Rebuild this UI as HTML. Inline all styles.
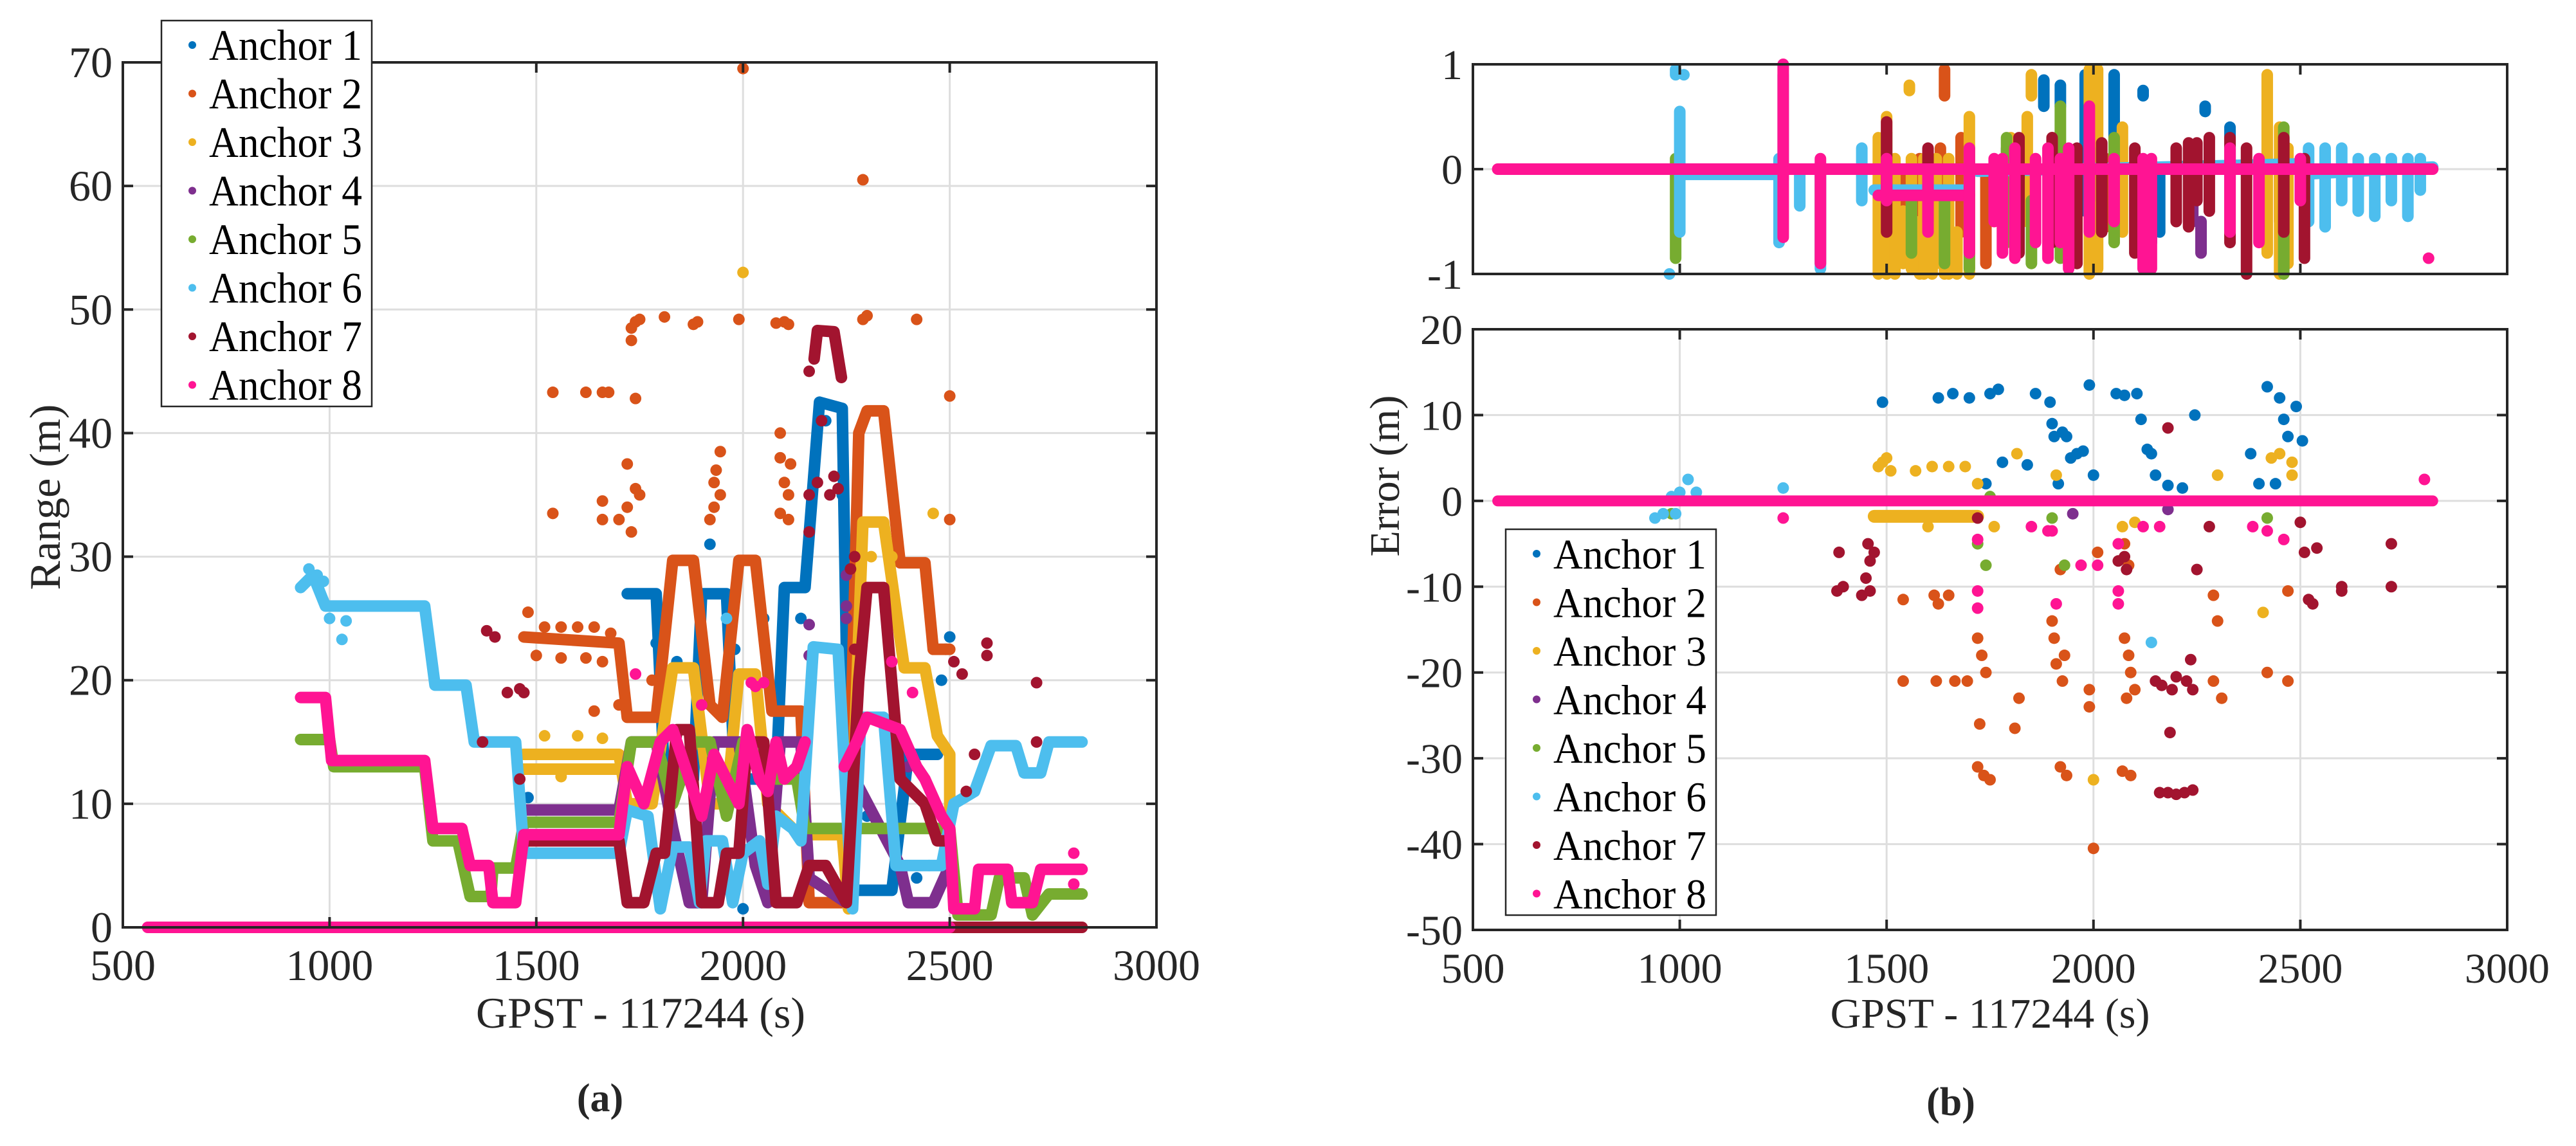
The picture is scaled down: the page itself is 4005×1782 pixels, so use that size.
<!DOCTYPE html>
<html><head><meta charset="utf-8"><style>
html,body{margin:0;padding:0;background:#fff;}
svg{display:block;font-family:"Liberation Serif",serif;}
</style></head><body>
<svg id="fig" width="4005" height="1782" viewBox="0 0 4005 1782" xmlns="http://www.w3.org/2000/svg">
<rect x="0" y="0" width="4005" height="1782" fill="#fff"/>
<g id="gA"></g>
<g id="gB"></g>
<g id="gC"></g>
<g id="gT"></g>
</svg>
<script>
// ---------- DATA ----------
const colors=["#0072BD","#D95319","#EDB120","#7E2F8E","#77AC30","#4DBEEE","#A2142F","#FF1493"];
const anchorNames=["Anchor 1","Anchor 2","Anchor 3","Anchor 4","Anchor 5","Anchor 6","Anchor 7","Anchor 8"];
const xTicks=[500,1000,1500,2000,2500,3000];
const rangeTicks=[0,10,20,30,40,50,60,70];
const errTopTicks=[-1,0,1];
const errBotTicks=[-50,-40,-30,-20,-10,0,10,20];

// Range traces [time, range]
const range1=[[[1720,27],[1790,27],[1810,12],[1880,12],[1900,27],[1960,27],[1980,12],[2080,12],[2100,27.5],[2150,27.5],[2185,42.5],[2240,42],[2260,3],[2360,3],[2400,14],[2470,14]]];
const range2=[[[1470,23.5],[1700,23],[1720,17],[1790,17],[1830,29.7],[1880,29.7],[1920,18],[1950,17],[1990,29.7],[2030,29.7],[2070,17.5],[2140,17.5],[2160,2],[2250,2],[2280,40],[2300,41.8],[2340,41.8],[2380,29.5],[2440,29.5],[2460,22.5],[2500,22.5]]];
const range3=[[[1470,14],[1700,14],[1720,10],[1780,10],[1830,21],[1880,21],[1920,10],[1960,10],[1990,20.5],[2030,20.5],[2060,10],[2120,8],[2140,7.5],[2240,7.5],[2255,1.5],[2290,32.8],[2340,32.8],[2390,21],[2440,21],[2470,15.5],[2500,14],[2500,9]],[[1470,12.8],[1700,12.8]]];
const range4=[[[1470,9.5],[1700,9.5],[1730,15],[1790,15],[1830,8],[1870,2],[1900,2],[1930,15],[1990,15],[2030,5],[2060,2],[2090,15],[2140,15],[2160,4],[2250,2],[2270,12],[2380,5],[2400,2],[2460,2],[2500,5]]];
const range5=[[[930,15.2],[1000,15.2],[1010,13],[1230,13],[1250,7],[1310,7],[1340,2.5],[1390,2.5],[1395,4.8],[1450,4.8],[1470,8.5],[1700,8.5],[1730,15],[1790,15],[1830,10],[1880,15],[1920,15],[1960,9],[2000,15],[2040,15],[2080,12],[2130,12],[2150,8],[2500,8],[2520,1],[2600,1],[2620,4],[2680,4],[2700,1],[2740,2.7],[2820,2.7]]];
const range6=[[[930,27.5],[960,28.5],[990,26],[1230,26],[1255,19.6],[1330,19.6],[1350,15],[1450,15],[1470,6],[1700,6],[1720,9.5],[1770,9],[1800,1.5],[1830,6.5],[1870,6.5],[1895,2],[1910,7],[1950,7],[1975,2],[2000,6],[2040,7],[2060,3.5],[2080,9],[2120,8],[2140,7],[2170,22.7],[2230,22.5],[2250,10],[2265,1.5],[2285,17],[2340,17],[2370,5],[2480,5],[2510,10],[2560,11],[2600,14.7],[2660,14.7],[2680,12.5],[2720,12.5],[2740,15],[2820,15]]];
const range7=[[[1470,7],[1700,7],[1720,2],[1760,2],[1790,6],[1810,6],[1840,16],[1870,16],[1900,2],[1940,2],[1960,6],[1990,6],[2010,15],[2050,15],[2080,2],[2130,2],[2160,5],[2200,5],[2250,2],[2280,20],[2300,27.5],[2340,27.5],[2380,12],[2440,10],[2470,7],[2495,7]],[[2172,46],[2180,48.3],[2220,48.2],[2238,44.5]],[[2500,0],[2820,0]]];
const range8=[[[560,0],[2500,0]],[[930,18.6],[990,18.6],[1005,13.5],[1230,13.5],[1250,8],[1320,8],[1340,5],[1385,5],[1395,2],[1450,2],[1470,7.5],[1700,7.5],[1720,13],[1760,10],[1800,15],[1830,16],[1870,12],[1900,9],[1930,14],[1960,12],[1990,10],[2010,16],[2040,12],[2060,11],[2080,15],[2100,12],[2130,13],[2150,15]],[[2245,13],[2275,15],[2300,17],[2380,16],[2420,13],[2440,12],[2480,9],[2500,8],[2510,1.5],[2560,1.5],[2570,4.7],[2640,4.7],[2650,2],[2700,2],[2720,4.7],[2820,4.7]]];

// Range outlier points [time, range]
const rangeOut1=[[1920,31],[2140,25],[2050,25],[1980,22.5],[1840,21.5],[1790,23],[2500,23.5],[2490,22.5],[2480,20],[1910,13.5],[2300,9],[2420,4],[2000,1.5],[1480,10.5],[2240,35],[2200,41]];
const rangeOut2=[[2000,69.5],[2290,60.5],[1730,48.5],[1730,47.5],[1740,49],[1750,49.2],[1810,49.4],[1880,48.8],[1890,49],[1990,49.2],[2080,48.9],[2100,49],[2110,48.8],[2290,49.2],[2300,49.5],[2420,49.2],[2500,43],[1540,43.3],[1620,43.3],[1660,43.3],[1675,43.3],[1740,42.8],[1540,33.5],[1660,34.5],[1660,33],[1700,33],[1720,34],[1740,35.5],[1720,37.5],[1730,32],[1750,35],[1920,33],[1930,36],[1935,37],[1945,38.5],[1945,35],[1930,34],[2090,40],[2090,38],[2100,36],[2110,35],[2115,37.5],[2090,33.5],[2110,33],[2500,33],[1700,18],[1780,20],[1640,17.5],[1480,25.5],[1520,24.3],[1560,24.3],[1600,24.3],[1640,24.3],[1680,23.8],[1500,22],[1560,21.8],[1620,21.8],[1660,21.5]];
const rangeOut3=[[2000,53],[2460,33.5],[2360,30],[2310,30],[1520,15.5],[1600,15.5],[1660,15.3],[1560,12.2]];
const rangeOut4=[[2160,24.5],[2250,26],[2250,25],[2160,22],[2250,28.5],[2390,15],[2400,13]];
const rangeOut5=[];
const rangeOut6=[[950,29],[970,28.5],[985,28],[1000,25],[1030,23.3],[1040,24.8],[1960,25],[2450,5]];
const rangeOut7=[[2160,45],[2190,41],[2160,35],[2180,36],[2210,35],[2230,35.5],[2160,32],[2220,36.5],[2260,29],[2270,22.5],[2590,23],[2590,22],[2710,19.8],[2710,15],[2530,20.5],[2510,21.5],[2560,14],[2540,11],[1380,24],[1400,23.5],[1430,19],[1460,19.3],[1370,15],[1470,19],[2270,30],[1460,12],[2000,13]];
const rangeOut8=[[1900,18],[2050,19.8],[2020,19.8],[2030,19.5],[2360,21.5],[2410,19],[2800,6],[2800,3.5],[1740,20.5]];

// Error (top panel) spikes [time, low, high]
const errSpike1=[[1880,0.6,0.85],[1980,-0.4,0.9],[2130,-0.5,0.05],[2160,-0.6,0],[2270,0.55,0.6],[2330,-0.1,0.4],[2050,0.3,0.9],[1920,0.6,0.8],[2120,0.7,0.75],[2140,-0.7,-0.1]];
const errSpike2=[[1500,-0.5,0.1],[1540,-0.6,0],[1580,-0.7,0.1],[1630,-0.8,0.2],[1640,0.7,0.95],[1680,-0.6,0.3],[1740,-0.9,0.0],[1900,-0.6,0.3],[2030,-0.55,0.1],[2450,-0.5,0.1],[1560,-0.7,-0.2],[1610,-0.75,-0.2]];
const errSpike3=[[1480,-1,0.3],[1500,-1,0.5],[1520,-1,0.1],[1540,-0.9,-0.4],[1560,-0.95,0.1],[1580,-1,-0.5],[1590,-1,0.1],[1610,-1,-0.5],[1620,-0.9,0.1],[1640,-1,-0.6],[1650,-1,0.1],[1670,-1,-0.6],[1700,-1,0.5],[1800,-0.7,0.3],[1840,-0.5,0.5],[1850,0.7,0.9],[1990,-1,0.95],[2010,-0.95,0.95],[2070,-0.6,0.4],[2420,-0.8,0.9],[2450,-1,0.4],[2470,-0.9,0.2],[1555,0.75,0.8]];
const errSpike4=[[2240,-0.5,0],[2260,-0.8,-0.5],[1990,-0.3,0.2],[1790,-0.6,0.2]];
const errSpike5=[[990,-0.85,0.1],[1340,-0.9,0],[1500,-0.3,0.35],[1700,-0.95,0.2],[1790,-0.7,0.3],[1920,-0.85,0.6],[2050,-0.7,0.3],[2460,-1,0.4],[1560,-0.8,-0.2],[1640,-0.9,-0.2],[1850,-0.9,-0.3]];
const errSpike6=[[1000,-0.6,0.55],[975,-1,-1],[990,0.9,0.95],[1010,0.9,0.9],[1240,-0.7,0.1],[1340,-0.95,0.05],[1290,-0.35,0],[1440,-0.3,0.2],[2520,-0.5,0.2],[2560,-0.55,0.2],[2600,-0.3,0.2],[2640,-0.4,0.1],[2680,-0.45,0.1],[2720,-0.3,0.1],[2760,-0.45,0.1],[2790,-0.2,0.1],[1250,-0.1,0.9]];
const errSpike7=[[1500,-0.6,0.45],[1600,-0.5,0.2],[1820,-0.8,0.3],[1900,-0.7,0.3],[1960,-0.9,0.2],[2020,-0.6,0.25],[2100,-0.8,0.2],[2230,-0.55,0.25],[2280,-0.4,0.3],[2330,-0.7,0.3],[2370,-1,0.2],[2460,-0.6,0.3],[2510,-0.85,0.1],[2200,-0.5,0.2],[2250,-0.3,0.25]];
const errSpike8=[[1250,-0.65,1],[1340,-0.9,0.1],[1500,-0.3,0.1],[1700,-0.8,0.2],[1780,-0.8,0.1],[1810,-0.85,0.2],[1890,-0.85,0.2],[1940,-0.95,0.2],[1990,-0.6,0.6],[2120,-0.95,0.1],[2140,-0.95,0.1],[2330,-0.6,0.2],[2400,-0.7,0.1],[2500,-0.3,0.1],[2810,-0.85,-0.85],[1600,-0.6,0.0],[1860,-0.7,0.1],[1760,-0.5,0.1],[1920,-0.7,0.1],[2050,-0.5,0.1]];
// Error (top panel) bands [t, value] polylines
const errBand6=[[[1000,-0.05],[1240,-0.05]],[[1470,-0.2],[1700,-0.2]],[[1720,-0.02],[2500,0.05]],[[2500,-0.05],[2820,0.02]]];
const errBand8=[[[560,0],[2820,0]],[[1480,-0.25],[1700,-0.25]]];

// Error (bottom panel) outlier points [time, error]
const errOut1=[[1490,11.5],[1625,12],[1660,12.5],[1700,12],[1750,12.5],[1770,13],[1860,12.5],[1895,11.5],[1900,9],[1925,8],[1905,7.5],[1935,7.5],[1945,5],[1960,5.5],[1975,5.8],[1990,13.5],[2000,3],[2055,12.5],[2075,12.3],[2105,12.5],[2115,9.5],[2130,6],[2140,5.5],[2180,1.8],[2245,10],[2215,1.5],[2380,5.5],[2420,13.3],[2450,12],[2460,9.5],[2470,7.5],[2490,11],[2505,7],[2440,2],[1780,4.5],[1840,4.2],[2400,2],[1915,2],[1740,2],[2150,3]];
const errOut2=[[1540,-11.5],[1615,-11],[1625,-12],[1650,-11],[1540,-21],[1620,-21],[1665,-21],[1695,-21],[1720,-16],[1730,-18],[1740,-20],[1725,-26],[1720,-31],[1735,-32],[1750,-32.5],[1810,-26.5],[1820,-23],[1900,-14],[1905,-16],[1910,-19],[1925,-21],[1930,-18],[1920,-31],[1935,-32],[1990,-22],[1990,-24],[2000,-40.5],[2075,-16],[2085,-18],[2090,-20],[2080,-23],[2070,-31.5],[2090,-32],[2100,-22],[2290,-11],[2300,-14],[2290,-21],[2310,-23],[2420,-20],[2470,-21],[2470,-10.5],[2075,-5],[2085,-7.5],[1920,-8],[2010,-6]];
const errOut3=[[1480,4],[1490,4.5],[1500,5],[1510,3.5],[1570,3.5],[1610,4],[1650,4],[1690,4],[1720,2],[2000,-32.5],[2410,-13],[2430,5],[2450,5.5],[2480,4.5],[2480,3],[1815,5.5],[1910,3],[1600,-3],[2300,3],[1760,-3],[2070,-3],[2100,-2.5]];
const errOut4=[[2180,-1],[1950,-1.5]];
const errOut5=[[1720,-5],[1740,-7.5],[1930,-7.5],[1750,0.5],[980,-1.5],[1900,-2],[2420,-2]];
const errOut6=[[940,-2],[960,-1.5],[990,-1.5],[1000,1],[1020,2.5],[1040,1],[1250,1.5],[2140,-16.5],[980,0.5]];
const errOut7=[[1380,-10.5],[1385,-6],[1395,-10],[1440,-11],[1450,-9],[1460,-10.5],[1460,-7],[1455,-5],[1470,-6],[2060,-7],[2080,-8],[2075,-6.5],[2180,8.5],[2150,-21],[2165,-21.5],[2190,-22],[2200,-20.5],[2225,-21],[2240,-22],[2235,-18.5],[2185,-27],[2160,-34],[2180,-34],[2200,-34.2],[2220,-34],[2240,-33.7],[2250,-8],[2280,-3],[2510,-6],[2540,-5.5],[2520,-11.5],[2530,-12],[2600,-10],[2600,-10.5],[2720,-5],[2720,-10],[2500,-2.5],[1720,-2]];
const errOut8=[[1720,-4.5],[1720,-10.5],[1720,-12.5],[1900,-3.5],[1910,-12],[1970,-7.5],[2010,-7.5],[2060,-10.5],[2060,-12],[2120,-3],[2060,-5],[2160,-3],[2385,-3],[2420,-3.5],[2460,-4.5],[2800,2.5],[1850,-3],[1890,-3.5],[1250,-2]];
const errBotBand3=[[[1470,-1.8],[1720,-1.8]]];
const errBotBand8=[[[560,0],[2820,0]]];

// ---------- LAYOUT ----------
const NS="http://www.w3.org/2000/svg";
const A={x0:191,x1:1798,y0:1442,y1:97,vmin:0,vmax:70};
const B={x0:2290,x1:3898,y0:426,y1:100,vmin:-1,vmax:1};
const C={x0:2290,x1:3898,y0:1446,y1:512,vmin:-50,vmax:20};
function sx(ax,t){return ax.x0+(t-500)/2500*(ax.x1-ax.x0);}
function sy(ax,v){return ax.y0-(v-ax.vmin)/(ax.vmax-ax.vmin)*(ax.y0-ax.y1);}
function mk(tag,attrs,parent){const e=document.createElementNS(NS,tag);for(const k in attrs)e.setAttribute(k,attrs[k]);parent.appendChild(e);return e;}

function axesFrame(ax,g,yt,showX,gridX,name){
  if(gridX){for(const t of xTicks){const l=mk('line',{x1:sx(ax,t),x2:sx(ax,t),y1:ax.y0,y2:ax.y1,stroke:'#dedede','stroke-width':3},g);
    
    }}
  for(const v of yt){const l=mk('line',{x1:ax.x0,x2:ax.x1,y1:sy(ax,v),y2:sy(ax,v),stroke:'#dedede','stroke-width':3},g);
    
    }
}
function axesBox(ax,g,yt,showX,name,fs){
  const r=mk('rect',{x:ax.x0,y:ax.y1,width:ax.x1-ax.x0,height:ax.y0-ax.y1,fill:'none',stroke:'#262626','stroke-width':4},g);
  
  
  for(const t of xTicks){mk('line',{x1:sx(ax,t),x2:sx(ax,t),y1:ax.y0,y2:ax.y0-16,stroke:'#262626','stroke-width':4},g);
    mk('line',{x1:sx(ax,t),x2:sx(ax,t),y1:ax.y1,y2:ax.y1+16,stroke:'#262626','stroke-width':4},g);
    if(showX){const tx=mk('text',{x:sx(ax,t),y:ax.y0+82,'text-anchor':'middle','font-size':fs,fill:'#262626'},g);tx.textContent=t;
      
      }}
  for(const v of yt){mk('line',{x1:ax.x0,x2:ax.x0+16,y1:sy(ax,v),y2:sy(ax,v),stroke:'#262626','stroke-width':4},g);
    mk('line',{x1:ax.x1,x2:ax.x1-16,y1:sy(ax,v),y2:sy(ax,v),stroke:'#262626','stroke-width':4},g);
    const tx=mk('text',{x:ax.x0-16,y:sy(ax,v)+23,'text-anchor':'end','font-size':fs,fill:'#262626'},g);tx.textContent=v;
    
    }
}
function clip(ax,id){const d=mk('clipPath',{id:id},document.getElementById('fig'));mk('rect',{x:ax.x0-10,y:ax.y1-10,width:ax.x1-ax.x0+20,height:ax.y0-ax.y1+20},d);}
function traces(ax,g,list,col,w){for(const tr of list){const p=mk('polyline',{points:tr.map(q=>sx(ax,q[0])+','+sy(ax,q[1])).join(' '),fill:'none',stroke:col,'stroke-width':w,'stroke-linejoin':'round','stroke-linecap':'round'},g);
  
  }}
function dots(ax,g,list,col){for(const q of list){const c=mk('circle',{cx:sx(ax,q[0]),cy:sy(ax,q[1]),r:9,fill:col},g);
  
  }}
function spikes(ax,g,list,col){for(const q of list){const l=mk('line',{x1:sx(ax,q[0]),x2:sx(ax,q[0]),y1:sy(ax,q[1]),y2:sy(ax,q[2]),stroke:col,'stroke-width':18,'stroke-linecap':'round'},g);
  
  }}

const gA=document.getElementById('gA'),gB=document.getElementById('gB'),gC=document.getElementById('gC'),gT=document.getElementById('gT');
clip(A,'cA');clip(B,'cB');clip(C,'cC');
axesFrame(A,gA,rangeTicks,true,true,'range');
axesFrame(B,gB,[0],false,false,'err-top');
axesFrame(C,gC,errBotTicks,true,true,'err-bottom');
const pA=mk('g',{'clip-path':'url(#cA)'},gA),pB=mk('g',{'clip-path':'url(#cB)'},gB),pC=mk('g',{'clip-path':'url(#cC)'},gC);
const rangeTr=[range1,range2,range3,range4,range5,range6,range7,range8];
const rangeOut=[rangeOut1,rangeOut2,rangeOut3,rangeOut4,rangeOut5,rangeOut6,rangeOut7,rangeOut8];
const errSp=[errSpike1,errSpike2,errSpike3,errSpike4,errSpike5,errSpike6,errSpike7,errSpike8];
const errO=[errOut1,errOut2,errOut3,errOut4,errOut5,errOut6,errOut7,errOut8];
for(let i=0;i<8;i++){
  traces(A,pA,rangeTr[i],colors[i],18);dots(A,pA,rangeOut[i],colors[i]);
  if(i===5)traces(B,pB,errBand6,colors[i],18);
  if(i===7)traces(B,pB,errBand8,colors[i],18);
  spikes(B,pB,errSp[i],colors[i]);
  if(i===2)traces(C,pC,errBotBand3,colors[i],20);
  if(i===7)traces(C,pC,errBotBand8,colors[i],17);
  dots(C,pC,errO[i],colors[i]);
}
axesBox(A,gA,rangeTicks,true,'range',68);
axesBox(B,gB,errTopTicks,false,'err-top',66);
axesBox(C,gC,errBotTicks,true,'err-bottom',66);

function legend(x,y,name,fs){const g=mk('g',{},gT);
  
  
  const r=mk('rect',{x:x,y:y,width:327,height:600,fill:'#fff',stroke:'#262626','stroke-width':2.5},g);
  for(let i=0;i<8;i++){const yy=y+38+i*75.5;
    const e=mk('g',{},g);
    
    
    mk('circle',{cx:x+48,cy:yy,r:6,fill:colors[i]},e);
    const t=mk('text',{x:x+74,y:yy+23,'font-size':fs,'textLength':238,'lengthAdjust':'spacingAndGlyphs',fill:'#000'},e);t.textContent=anchorNames[i];}
}
legend(251,32,'range-legend',68);
legend(2341,823,'error-legend',66);
</script>
<script>
const gT2=document.getElementById('gT');
function lab(txt,x,y,opt,name){const t=document.createElementNS("http://www.w3.org/2000/svg",'text');
  t.setAttribute('x',x);t.setAttribute('y',y);t.setAttribute('text-anchor','middle');t.setAttribute('font-size',opt.fs||66);t.setAttribute('fill','#262626');
  if(opt.bold)t.setAttribute('font-weight','bold');
  if(opt.rot)t.setAttribute('transform','rotate(-90 '+x+' '+y+')');
  t.textContent=txt;
  
  
  gT2.appendChild(t);}
lab('GPST - 117244 (s)',996,1598,{fs:68},'x-axis-title-a');
lab('GPST - 117244 (s)',3094,1598,{},'x-axis-title-b');
lab('Range (m)',93,773,{rot:true,fs:68},'y-axis-title-a');
lab('Error (m)',2175,740,{rot:true},'y-axis-title-b');
lab('(a)',933,1728,{bold:true,fs:62},'panel-label-a');
lab('(b)',3033,1734,{bold:true,fs:62},'panel-label-b');
</script>
</body></html>
